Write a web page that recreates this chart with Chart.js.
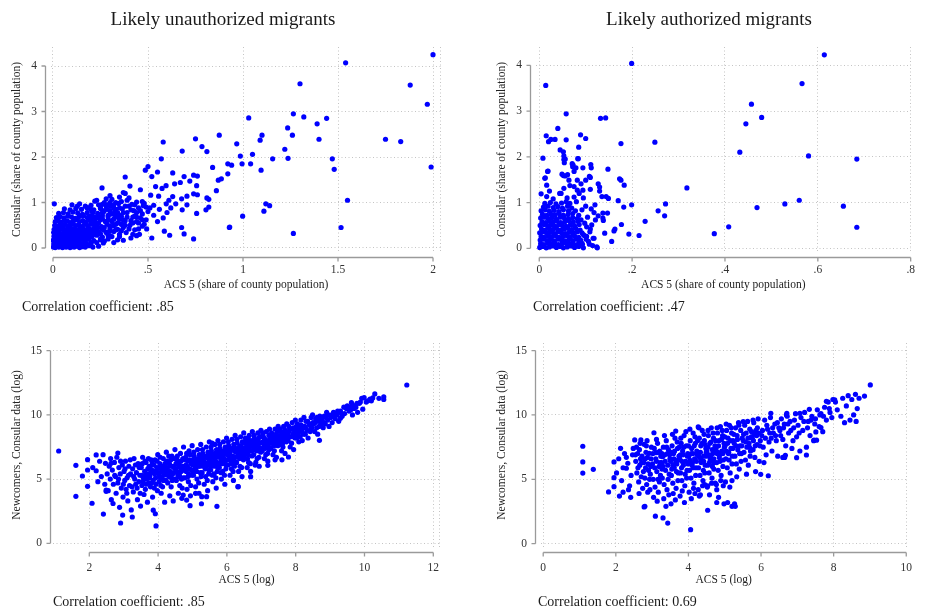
<!DOCTYPE html>
<html>
<head>
<meta charset="utf-8">
<script src="https://cdn.jsdelivr.net/npm/chart.js@4.4.1/dist/chart.umd.min.js"></script>
<style>
  html, body { margin: 0; padding: 0; background: #ffffff; }
  #wrap { position: relative; width: 926px; height: 614px; overflow: hidden; background: #ffffff; }
  #wrap canvas { position: absolute; left: 0; top: 0; }
</style>
</head>
<body>
<div id="wrap">
  <canvas id="pTL" width="926" height="614"></canvas>
  <canvas id="pTR" width="926" height="614"></canvas>
  <canvas id="pBL" width="926" height="614"></canvas>
  <canvas id="pBR" width="926" height="614"></canvas>
</div>
<script>
// ---- Text ----
const panelTitles = ['Likely unauthorized migrants', 'Likely authorized migrants'];
const shareXTitle = 'ACS 5 (share of county population)';
const shareYTitle = 'Consular (share of county population)';
const logXTitle = 'ACS 5 (log)';
const logYTitle = 'Newcomers, Consular data (log)';
const correlationNotes = ['Correlation coefficient: .85', 'Correlation coefficient: .47',
                          'Correlation coefficient: .85', 'Correlation coefficient: 0.69'];

// ---- Tick values ----
const shareTicksUnauthX = [0, 0.5, 1, 1.5, 2];
const shareTicksAuthX = [0, 0.2, 0.4, 0.6, 0.8];
const shareTicksY = [0, 1, 2, 3, 4];
const logTicksUnauthX = [2, 4, 6, 8, 10, 12];
const logTicksAuthX = [0, 2, 4, 6, 8, 10];
const logTicksY = [0, 5, 10, 15];

// ---- County values: [ACS 5, Consular] ----
// Likely unauthorized, share of county population
const unauthShare = [
  [1.54,4.07],[2.0,4.25],[1.30,3.61],[1.88,3.58],[1.97,3.16],[1.265,2.95],[1.03,2.86],[1.32,2.88],[1.44,2.85],[1.39,2.73],
  [1.235,2.64],[1.10,2.48],[1.09,2.37],[1.26,2.48],[1.40,2.39],[1.75,2.39],[1.83,2.34],[0.967,2.29],[1.22,2.17],[1.05,2.06],
  [0.986,2.02],[1.237,1.97],[1.156,1.96],[1.47,1.96],[0.995,1.85],[1.04,1.85],[0.94,1.82],[1.095,1.71],[1.48,1.73],[1.99,1.78],
  [1.55,1.05],[1.12,0.97],[1.14,0.93],[1.11,0.81],[0.998,0.70],[1.516,0.45],[1.265,0.32],[0.93,0.46],
  [0.58,2.33],[0.75,2.40],[0.875,2.48],[0.784,2.23],[0.81,2.12],[0.68,2.13],[0.57,1.96],[0.84,1.77],[0.92,1.85],[0.50,1.79],
  [0.486,1.71],[0.55,1.67],[0.38,1.56],[0.52,1.57],[0.63,1.65],[0.69,1.57],[0.74,1.60],[0.76,1.58],[0.92,1.63],[0.886,1.52],
  [0.87,1.49],[0.72,1.47],[0.67,1.44],[0.64,1.41],[0.595,1.37],[0.54,1.35],[0.405,1.36],[0.258,1.32],[0.756,1.37],[0.86,1.26],
  [0.574,1.31],[0.46,1.28],[0.37,1.22],[0.38,1.20],[0.514,1.16],[0.556,1.14],[0.63,1.13],[0.705,1.14],[0.74,1.19],[0.76,1.17],
  [0.61,1.05],[0.677,1.08],[0.81,1.10],[0.82,1.07],[0.007,0.97],[0.128,0.92],[0.22,1.03],[0.31,1.07],[0.33,1.00],[0.415,0.96],
  [0.44,1.01],[0.475,0.93],[0.53,0.94],[0.596,0.97],[0.646,0.97],[0.705,0.95],[0.68,0.84],[0.756,0.76],[0.805,0.84],[0.82,0.90],
  [0.677,0.45],[0.586,0.37],[0.69,0.31],[0.74,0.20],[0.614,0.28],[0.52,0.22],[0.928,0.45],[0.493,0.42],[0.44,0.27],[0.37,0.17],
  [0.265,0.11],
  [0.47,0.75],[0.50,0.80],[0.53,0.72],[0.56,0.85],[0.60,0.78],[0.49,0.62],[0.55,0.58],[0.45,0.55],[0.58,0.66],[0.62,0.88],
  [0.51,0.88],[0.43,0.70],[0.47,0.48],[0.41,0.60],[0.36,0.52],
  [0.16,0.72],[0.17,0.55],[0.18,0.88],[0.19,0.40],[0.2,0.62],[0.21,0.78],[0.22,0.30],[0.23,0.50],[0.24,0.95],[0.245,0.68],
  [0.25,0.20],[0.26,0.42],[0.27,0.82],[0.275,0.58],[0.28,0.35],[0.29,0.72],[0.3,0.48],[0.305,0.92],[0.31,0.25],[0.32,0.64],
  [0.325,0.80],[0.33,0.40],[0.34,0.55],[0.345,0.98],[0.35,0.30],[0.36,0.70],[0.365,0.86],[0.37,0.45],[0.38,0.60],[0.385,0.34],
  [0.39,0.78],[0.4,0.92],[0.405,0.50],[0.41,0.22],[0.42,0.68],[0.425,0.82],[0.43,0.40],[0.44,0.58],[0.45,0.88],[0.455,0.30],
  [0.46,0.66],[0.47,1.02],[0.48,0.52],[0.49,0.90],[0.2,0.12],[0.22,0.45],[0.18,0.25],[0.17,0.92],[0.23,1.05],[0.27,0.15],
  [0.29,0.95],[0.31,0.58],[0.34,0.18],[0.36,1.02],[0.38,0.92],[0.33,0.85],[0.29,0.28],[0.26,0.64],[0.24,0.36],[0.21,0.52],
  [0.19,0.70],[0.35,0.72],[0.42,0.30],[0.39,1.05],[0.44,0.78],[0.3,0.82],[0.27,1.0],[0.25,0.88],[0.32,0.12],[0.37,0.62],
  [0.2,0.85],[0.22,0.68],[0.24,0.55],[0.26,0.78],[0.27,0.45],[0.28,0.92],[0.29,0.62],[0.3,0.38],[0.31,0.75],[0.32,0.95],
  [0.33,0.52],[0.34,0.68],[0.35,0.88],[0.36,0.38],[0.37,0.78],[0.38,0.5],[0.39,0.68],[0.4,0.42],[0.41,0.84],[0.42,0.55],
  [0.43,0.95],[0.44,0.68],[0.45,0.42],[0.46,0.82],[0.47,0.62],[0.48,0.98],[0.4,1.1],[0.35,1.12],[0.3,1.15],[0.28,1.08],
  [0.002,0.02],[0.012,0.01],[0.022,0.04],[0.031,0.02],[0.041,0.05],[0.05,0.01],[0.06,0.03],[0.07,0.02],[0.08,0.05],[0.09,0.01],
  [0.1,0.03],[0.112,0.02],[0.125,0.04],[0.14,0.01],[0.155,0.03],[0.17,0.02],[0.19,0.05],[0.21,0.02],[0.24,0.04],
  [0.004,0.09],[0.015,0.11],[0.026,0.08],[0.036,0.1],[0.046,0.12],[0.056,0.08],[0.066,0.1],[0.076,0.12],[0.087,0.09],[0.097,0.11],
  [0.108,0.08],[0.12,0.1],[0.133,0.12],[0.147,0.09],[0.162,0.11],[0.18,0.08],[0.2,0.1],[0.23,0.12],
  [0.001,0.17],[0.01,0.19],[0.02,0.16],[0.03,0.18],[0.04,0.2],[0.05,0.17],[0.061,0.19],[0.071,0.16],[0.082,0.18],[0.093,0.2],
  [0.104,0.17],[0.116,0.19],[0.128,0.16],[0.142,0.18],[0.156,0.2],[0.172,0.17],[0.19,0.19],[0.215,0.16],[0.25,0.18],[0.29,0.2],
  [0.005,0.26],[0.016,0.24],[0.027,0.27],[0.038,0.25],[0.049,0.23],[0.059,0.26],[0.069,0.28],[0.08,0.24],[0.091,0.26],[0.102,0.25],
  [0.114,0.27],[0.126,0.23],[0.139,0.26],[0.153,0.28],[0.168,0.24],[0.185,0.27],[0.205,0.25],[0.23,0.28],[0.26,0.24],[0.3,0.27],[0.35,0.25],
  [0.003,0.34],[0.013,0.32],[0.024,0.35],[0.035,0.33],[0.046,0.31],[0.057,0.34],[0.068,0.36],[0.079,0.32],[0.09,0.34],[0.101,0.33],
  [0.113,0.35],[0.125,0.31],[0.138,0.34],[0.152,0.36],[0.166,0.32],[0.182,0.35],[0.2,0.33],[0.22,0.37],[0.25,0.31],[0.28,0.34],[0.32,0.36],
  [0.006,0.41],[0.018,0.43],[0.03,0.4],[0.042,0.42],[0.054,0.44],[0.066,0.4],[0.078,0.42],[0.09,0.44],[0.102,0.41],[0.115,0.43],
  [0.128,0.39],[0.142,0.42],[0.157,0.44],[0.173,0.4],[0.19,0.43],[0.21,0.41],[0.235,0.44],[0.265,0.4],[0.3,0.43],[0.34,0.41],
  [0.009,0.5],[0.022,0.48],[0.036,0.51],[0.05,0.49],[0.064,0.52],[0.078,0.48],[0.092,0.5],[0.106,0.53],[0.12,0.49],[0.135,0.51],
  [0.15,0.47],[0.166,0.52],[0.183,0.49],[0.2,0.53],[0.225,0.5],[0.255,0.47],[0.285,0.52],[0.32,0.49],[0.36,0.53],
  [0.012,0.58],[0.028,0.6],[0.044,0.57],[0.06,0.61],[0.076,0.59],[0.092,0.56],[0.108,0.6],[0.124,0.62],[0.14,0.58],[0.157,0.6],
  [0.175,0.57],[0.195,0.61],[0.22,0.59],[0.25,0.62],[0.28,0.57],[0.31,0.6],[0.35,0.63],
  [0.018,0.67],[0.038,0.69],[0.058,0.66],[0.078,0.7],[0.098,0.68],[0.118,0.65],[0.138,0.69],[0.158,0.71],[0.18,0.67],[0.205,0.7],
  [0.23,0.66],[0.26,0.71],[0.29,0.68],[0.33,0.7],
  [0.03,0.76],[0.055,0.78],[0.08,0.75],[0.105,0.79],[0.13,0.77],[0.155,0.74],[0.18,0.78],[0.205,0.8],[0.235,0.76],[0.265,0.79],
  [0.3,0.75],[0.34,0.78],
  [0.06,0.86],[0.09,0.84],[0.12,0.87],[0.15,0.85],[0.185,0.88],[0.215,0.84],[0.25,0.87],[0.285,0.85],[0.32,0.88],
  [0.1,0.95],[0.14,0.97],[0.2,0.94],[0.26,0.96],[0.3,1.0]
];

// Likely authorized, share of county population
const authShare = [
  [0.614,4.23],[0.566,3.60],[0.457,3.15],[0.479,2.86],[0.445,2.72],[0.432,2.10],[0.58,2.02],[0.684,1.95],[0.318,1.32],[0.469,0.89],
  [0.529,0.97],[0.56,1.05],[0.655,0.92],[0.408,0.47],[0.377,0.32],[0.684,0.46],
  [0.199,4.04],[0.014,3.56],[0.058,2.94],[0.132,2.84],[0.143,2.85],[0.04,2.62],[0.015,2.46],[0.089,2.48],[0.10,2.40],[0.02,2.33],
  [0.025,2.38],[0.034,2.38],[0.058,2.37],[0.249,2.32],[0.176,2.29],[0.085,2.21],[0.045,2.15],[0.052,2.11],[0.008,1.97],[0.053,2.02],
  [0.083,1.96],[0.053,1.94],[0.071,1.85],[0.072,1.78],[0.054,1.87],[0.094,1.76],[0.111,1.83],[0.112,1.76],[0.148,1.73],[0.018,1.68],
  [0.052,1.59],[0.061,1.61],[0.173,1.52],[0.176,1.49],[0.183,1.38],[0.127,1.41],[0.130,1.34],[0.10,1.49],[0.013,1.54],[0.016,1.38],
  [0.066,1.37],[0.09,1.41],[0.11,1.55],[0.004,1.19],[0.044,1.20],[0.086,1.20],[0.11,1.29],[0.135,1.13],[0.17,1.04],[0.199,0.95],
  [0.182,0.90],[0.272,0.97],[0.256,0.82],[0.27,0.71],[0.228,0.59],[0.215,0.28],[0.193,0.31],[0.177,0.52],[0.161,0.38],[0.163,0.42],
  [0.156,0.15],[0.147,0.77],[0.138,0.61],[0.141,0.33],[0.125,0.01],[0.118,0.22],[0.108,0.09],[0.102,0.26],
  [0.049,1.62],[0.056,1.58],[0.064,1.49],[0.082,1.49],[0.108,1.57],[0.075,1.35],[0.082,1.27],[0.094,1.27],[0.053,1.31],[0.047,1.20],
  [0.022,1.25],[0.016,1.13],[0.13,1.25],[0.144,1.13],[0.149,1.09],[0.137,0.77],[0.137,0.66],[0.127,0.71],[0.118,0.78],[0.121,0.62],
  [0.113,0.51],[0.102,0.47],[0.124,0.03],[0.116,0.22],[0.109,0.36],[0.097,0.28],[0.101,0.20],[0.086,0.14],[0.093,0.09],[0.115,0.06],
  [0.073,1.82],[0.079,1.76],[0.075,1.68],[0.019,1.69],[0.012,1.53],[0.056,1.95],[0.084,1.96],
  [0.001,0.02],[0.008,0.04],[0.015,0.01],[0.022,0.03],[0.03,0.05],[0.037,0.02],[0.045,0.04],[0.052,0.01],[0.06,0.03],[0.068,0.05],
  [0.076,0.02],[0.085,0.04],[0.095,0.01],
  [0.003,0.1],[0.01,0.08],[0.018,0.11],[0.026,0.09],[0.033,0.12],[0.041,0.08],[0.049,0.1],[0.057,0.12],[0.065,0.09],[0.073,0.11],
  [0.082,0.08],[0.091,0.12],
  [0.002,0.18],[0.009,0.2],[0.017,0.17],[0.024,0.19],[0.032,0.16],[0.04,0.2],[0.048,0.18],[0.056,0.16],[0.064,0.19],[0.072,0.17],
  [0.08,0.2],[0.089,0.18],
  [0.004,0.26],[0.011,0.24],[0.019,0.27],[0.027,0.25],[0.035,0.28],[0.043,0.24],[0.051,0.26],[0.059,0.28],[0.067,0.25],[0.076,0.27],[0.085,0.24],
  [0.001,0.34],[0.008,0.36],[0.016,0.33],[0.024,0.35],[0.032,0.32],[0.04,0.36],[0.048,0.34],[0.056,0.32],[0.064,0.35],[0.073,0.33],
  [0.082,0.36],[0.092,0.34],
  [0.005,0.42],[0.013,0.4],[0.021,0.43],[0.029,0.41],[0.037,0.44],[0.045,0.4],[0.053,0.42],[0.061,0.44],[0.07,0.41],[0.079,0.43],[0.088,0.4],
  [0.002,0.5],[0.01,0.52],[0.018,0.49],[0.026,0.51],[0.034,0.48],[0.042,0.52],[0.05,0.5],[0.058,0.48],[0.067,0.51],[0.076,0.49],[0.086,0.52],
  [0.006,0.58],[0.014,0.56],[0.022,0.59],[0.03,0.57],[0.038,0.6],[0.046,0.56],[0.055,0.58],[0.064,0.6],[0.073,0.57],[0.083,0.59],
  [0.003,0.66],[0.011,0.68],[0.019,0.65],[0.027,0.67],[0.036,0.64],[0.045,0.68],[0.054,0.66],[0.063,0.64],[0.072,0.67],[0.082,0.65],
  [0.007,0.74],[0.016,0.72],[0.025,0.75],[0.034,0.73],[0.043,0.76],[0.052,0.72],[0.062,0.74],[0.072,0.76],
  [0.004,0.82],[0.013,0.84],[0.022,0.81],[0.032,0.83],[0.042,0.8],[0.052,0.84],[0.063,0.82],
  [0.009,0.9],[0.019,0.92],[0.03,0.89],[0.04,0.91],[0.05,0.88],[0.061,0.92],
  [0.012,0.98],[0.024,1.0],[0.036,0.97],[0.048,0.99],[0.058,1.02],
  [0.095,0.3],[0.098,0.55],[0.104,0.68],[0.09,0.62],[0.085,0.72],[0.078,0.82],[0.092,0.84],[0.1,0.92],[0.07,0.88],[0.066,0.98],
  [0.08,1.02],[0.11,0.42],[0.106,0.15],[0.112,0.86],[0.12,0.95],[0.095,1.1],[0.075,1.12],[0.03,1.08],[0.06,1.1]
];

// Likely unauthorized, logs
const unauthLog = [
  [1.11,7.19],[1.61,6.07],[1.61,3.66],[1.80,5.24],[1.95,6.51],[1.95,4.44],[1.95,5.71],[2.08,3.12],[2.20,6.88],[2.20,5.65],
  [2.30,6.39],[2.41,2.28],[2.49,4.05],[2.49,4.15],[2.83,7.03],[2.91,1.58],[2.97,2.2],[3.25,2.05],[3.94,1.35],[3.86,2.58],
  [5.26,3.08],[4.93,2.93],[5.71,2.88],[6.33,4.41],[4.73,3.76],[4.83,3.37],[5.09,3.89],[5.27,3.63],[5.41,3.63],
  [2.35,5.2],[2.4,6.9],[2.45,4.6],[2.1,5.9],[2.25,4.8],[2.47,6.23],[2.63,6.23],
  [11.23,12.33],[10.56,11.2],[10.56,11.4],[10.30,11.63],[10.42,11.29],[10.16,11.24],[10.24,11.32],[9.99,11.34],[9.92,11.29],[9.62,10.95],
  [9.68,10.72],[9.6,10.4],[9.95,10.45],[9.30,9.73],[8.69,8.02],[7.79,6.72],[7.19,6.07],[7.4,6.5],[7.6,6.5],[6.82,6.09],
  [6.69,5.19],[6.32,4.41],
  [2.52,5.4],[2.55,4.1],[2.58,6.0],[2.61,5.0],[2.64,3.4],[2.67,5.7],[2.7,4.6],[2.73,6.3],
  [2.76,5.2],[2.78,3.9],[2.8,6.7],[2.83,4.7],[2.86,5.9],[2.88,2.8],[2.9,5.4],[2.93,4.3],[2.96,6.1],[2.98,3.6],
  [3.01,5.6],[3.03,4.9],[3.05,6.4],[3.07,4.2],[3.1,5.1],[3.12,3.3],[3.15,6.0],[3.17,4.5],[3.2,5.4],[3.22,2.6],
  [3.26,5.8],[3.28,4.0],[3.3,6.6],[3.32,5.0],[3.35,4.6],[3.37,5.5],[3.4,3.4],[3.42,6.2],[3.44,4.8],[3.47,5.3],[3.49,2.9],
  [3.51,5.9],[3.53,4.5],[3.55,6.7],[3.57,5.1],[3.59,3.8],[3.61,5.6],[3.63,4.2],[3.65,6.3],[3.67,5.0],[3.69,3.2],[3.71,5.4],[3.73,4.7],[3.74,6.0],
  [3.76,5.2],[3.78,4.4],[3.8,6.5],[3.82,5.7],[3.84,3.6],[3.86,4.9],[3.88,6.1],[3.9,5.4],[3.92,2.3],[3.94,4.6],[3.96,5.9],[3.98,4.1],[3.99,6.9],
  [4.01,5.5],[4.03,4.8],[4.05,6.2],[4.07,5.1],[4.09,3.9],[4.11,5.8],[4.13,4.4],[4.15,6.6],[4.17,5.3],[4.19,3.2],[4.21,5.9],[4.23,4.9],[4.24,7.1],[4.12,5.0],[4.2,6.2],
  [4.26,5.6],[4.28,4.7],[4.3,6.4],[4.32,5.2],[4.34,3.7],[4.36,6.0],[4.38,4.4],[4.4,6.8],[4.42,5.4],[4.44,3.3],[4.46,5.9],[4.48,5.0],[4.49,7.3],[4.33,6.2],[4.41,4.9],
  [4.51,5.8],[4.53,4.9],[4.55,6.5],[4.57,5.4],[4.59,3.9],[4.61,6.2],[4.63,4.5],[4.65,7.0],[4.67,5.6],[4.69,3.5],[4.71,6.0],[4.73,5.1],[4.74,7.5],[4.56,6.8],[4.64,5.9],[4.7,4.3],[4.58,5.2],
  [4.76,6.0],[4.78,5.1],[4.8,6.7],[4.82,5.6],[4.84,4.2],[4.86,6.4],[4.88,4.8],[4.9,7.2],[4.92,5.8],[4.94,3.7],[4.96,6.2],[4.98,5.3],[4.99,7.6],[4.81,6.1],[4.89,5.4],[4.95,4.5],[4.83,7.0],
  [5.01,6.1],[5.03,5.3],[5.05,6.8],[5.07,5.8],[5.09,4.4],[5.11,6.5],[5.13,5.0],[5.15,7.3],[5.17,6.0],[5.19,3.9],[5.21,6.4],[5.23,5.5],[5.24,7.7],[5.06,6.3],[5.12,5.6],[5.18,4.7],[5.04,7.1],[5.2,6.9],[5.1,5.9],[5.16,6.6],
  [5.26,6.3],[5.28,5.5],[5.3,7.0],[5.32,6.0],[5.34,4.6],[5.36,6.7],[5.38,5.2],[5.4,7.5],[5.42,6.2],[5.44,4.1],[5.46,6.6],[5.48,5.7],[5.49,7.9],[5.31,6.5],[5.37,5.8],[5.43,4.9],[5.29,7.3],[5.45,7.1],[5.35,6.1],[5.41,6.8],[5.47,5.4],
  [5.51,6.5],[5.53,5.7],[5.55,7.2],[5.57,6.2],[5.59,4.8],[5.61,6.9],[5.63,5.4],[5.65,7.7],[5.67,6.4],[5.69,4.3],[5.71,6.8],[5.73,5.9],[5.74,8.0],[5.56,6.7],[5.62,6.0],[5.68,5.1],[5.54,7.5],[5.7,7.3],[5.6,6.3],[5.66,7.0],[5.72,5.6],[5.58,5.3],
  [5.76,6.7],[5.78,5.9],[5.8,7.4],[5.82,6.4],[5.84,5.0],[5.86,7.1],[5.88,5.6],[5.9,7.9],[5.92,6.6],[5.94,4.6],[5.96,7.0],[5.98,6.1],[5.99,8.2],[5.81,6.9],[5.87,6.2],[5.93,5.3],[5.79,7.7],[5.95,7.5],[5.85,6.5],[5.91,7.2],[5.97,5.8],[5.83,5.5],
  [6.01,6.9],[6.03,6.1],[6.05,7.6],[6.07,6.6],[6.09,5.3],[6.11,7.3],[6.13,5.8],[6.15,8.1],[6.17,6.8],[6.19,4.9],[6.21,7.2],[6.23,6.3],[6.24,8.4],[6.06,7.1],[6.12,6.4],[6.18,5.6],[6.04,7.9],[6.2,7.7],[6.1,6.7],[6.16,7.4],[6.22,6.0],
  [6.26,7.1],[6.28,6.3],[6.3,7.8],[6.32,6.8],[6.34,5.6],[6.36,7.5],[6.38,6.0],[6.4,8.3],[6.42,7.0],[6.44,5.2],[6.46,7.4],[6.48,6.5],[6.49,8.6],[6.31,7.3],[6.37,6.6],[6.43,5.9],[6.29,8.1],[6.45,7.9],[6.35,7.2],[6.41,7.6],
  [6.51,7.35],[6.53,6.6],[6.55,8.0],[6.57,7.0],[6.59,5.9],[6.61,7.7],[6.63,6.3],[6.65,8.4],[6.67,7.2],[6.69,5.6],[6.71,7.6],[6.73,6.8],[6.74,8.7],[6.56,7.5],[6.62,6.9],[6.68,6.2],[6.54,8.2],[6.7,8.0],
  [6.76,7.6],[6.78,6.9],[6.8,8.2],[6.82,7.3],[6.84,6.3],[6.86,7.9],[6.88,6.6],[6.9,8.6],[6.92,7.5],[6.94,6.0],[6.96,7.8],[6.98,7.1],[6.99,8.8],[6.81,7.7],[6.87,7.2],[6.93,6.7],[6.79,8.4],[6.95,8.3],
  [7.01,7.85],[7.03,7.2],[7.05,8.4],[7.07,7.5],[7.09,6.6],[7.11,8.1],[7.13,6.9],[7.15,8.7],[7.17,7.7],[7.19,6.4],[7.21,8.0],[7.23,7.3],[7.24,8.9],[7.06,7.9],[7.12,7.4],[7.18,7.0],[7.04,8.6],
  [7.26,8.1],[7.28,7.4],[7.3,8.6],[7.32,7.8],[7.34,6.9],[7.36,8.3],[7.38,7.2],[7.4,8.9],[7.42,7.9],[7.44,6.7],[7.46,8.2],[7.48,7.6],[7.49,9.1],[7.31,8.0],[7.37,7.6],[7.43,8.5],
  [7.51,8.35],[7.53,7.7],[7.55,8.9],[7.57,8.0],[7.59,7.2],[7.61,8.6],[7.63,7.5],[7.65,9.1],[7.67,8.2],[7.69,7.0],[7.71,8.5],[7.73,7.9],[7.74,9.3],[7.56,8.4],[7.62,7.8],
  [7.76,8.6],[7.78,8.0],[7.8,9.1],[7.82,8.3],[7.84,7.5],[7.86,8.9],[7.88,7.8],[7.9,9.4],[7.92,8.5],[7.94,7.3],[7.96,8.8],[7.98,8.2],[7.99,9.6],[7.81,8.7],
  [8.01,8.85],[8.03,8.2],[8.05,9.3],[8.07,8.6],[8.09,7.9],[8.11,9.1],[8.13,8.3],[8.15,9.6],[8.17,8.8],[8.19,8.0],[8.21,9.0],[8.23,8.5],[8.24,9.8],
  [8.26,9.1],[8.28,8.5],[8.3,9.5],[8.33,8.8],[8.36,8.2],[8.39,9.3],[8.42,8.7],[8.45,9.8],[8.47,9.0],[8.49,10.0],
  [8.52,9.3],[8.55,8.7],[8.58,9.7],[8.61,9.0],[8.64,8.5],[8.67,9.5],[8.7,9.9],[8.73,9.2],
  [8.77,9.55],[8.8,9.0],[8.83,9.9],[8.86,9.3],[8.9,10.2],[8.93,9.6],[8.97,9.1],
  [9.02,9.8],[9.06,9.4],[9.1,10.2],[9.15,9.7],[9.2,10.0],[9.25,9.5],[9.3,10.3],[9.35,9.9],[9.42,10.1],[9.47,10.5],
  [9.55,10.3],[9.65,10.0],[9.75,10.6],[9.8,10.2],[9.85,10.9],[10.05,11.0],[10.2,11.1],
  [2.62,6.6],[2.69,3.1],[2.74,5.3],[2.85,5.0],[2.91,6.4],[2.99,4.6],[3.04,5.8],[3.09,3.9],[3.14,5.3],[3.19,6.5],
  [3.24,4.4],[3.29,5.2],[3.34,6.1],[3.39,4.3],[3.45,5.9],[3.48,3.9],
  [3.52,5.3],[3.54,6.2],[3.56,4.8],[3.6,5.0],[3.62,6.4],[3.64,5.3],[3.66,4.6],[3.7,5.8],[3.72,6.6],[3.75,5.1],
  [3.77,6.0],[3.79,5.5],[3.81,4.7],[3.83,6.3],[3.87,5.6],[3.89,4.3],[3.91,6.5],[3.93,5.1],[3.95,5.6],[3.97,6.4],
  [4.02,5.9],[4.04,5.3],[4.06,6.7],[4.08,4.5],[4.1,5.6],[4.14,6.0],[4.16,4.9],[4.18,5.7],[4.22,5.4],[4.25,6.4],
  [4.27,5.9],[4.29,5.3],[4.31,6.8],[4.35,5.6],[4.37,6.5],[4.39,5.1],[4.43,6.0],[4.45,5.5],[4.47,6.6],
  [4.52,6.2],[4.54,5.6],[4.6,6.0],[4.62,5.3],[4.66,6.4],[4.68,5.0],[4.72,6.6],[4.75,5.7],[4.77,6.5],[4.79,5.8],
  [4.85,6.0],[4.87,5.2],[4.91,6.5],[4.93,6.9],[4.97,5.7],[5.0,6.5],[5.02,5.6],[5.08,6.1],[5.14,6.3],[5.22,6.0],
  [5.25,5.2],[5.27,6.7],[5.33,6.4],[5.39,6.0],[5.46,6.3],[5.5,6.9],[5.52,6.0],[5.64,6.6],[5.75,6.2],
  [5.57,7.8],[5.63,6.1],[5.7,6.1],[5.77,7.1],[5.8,6.2],[5.84,6.8],[5.89,6.9],[5.95,6.4],[6.0,7.3],[6.02,6.5],
  [6.08,7.0],[6.14,6.2],[6.2,6.5],[6.25,7.4],[6.27,6.7],[6.33,7.0],[6.39,7.3],[6.44,6.8],[6.47,7.1],[6.5,6.9],
  [6.52,7.8],[6.58,7.3],[6.6,6.6],[6.64,7.5],[6.66,7.9],[6.72,7.2],[6.75,7.9],[6.77,7.3],[6.83,8.0],[6.85,7.5],
  [6.89,7.7],[6.91,8.1],[6.97,7.4],[6.62,8.1],
  [7.02,8.3],[7.08,8.2],[7.1,7.7],[7.14,8.0],[7.2,7.6],[7.22,8.4],[7.27,7.8],[7.29,8.4],[7.33,8.1],[7.39,8.0],
  [7.45,7.9],[7.47,8.7],[7.52,8.0],[7.58,8.7],[7.6,8.1],[7.64,8.4],[7.7,8.8],[7.72,8.1],[7.77,8.4],[7.83,8.9],
  [7.87,8.3],[7.93,9.0],[7.97,8.5],[8.02,9.1],[8.06,8.5],[8.12,8.8],[8.16,9.2],[8.2,8.6],[8.29,9.0],[8.35,9.5],
  [8.41,9.2],[8.44,8.9],[8.5,9.4],
  [8.57,9.4],[8.62,9.8],[8.68,9.1],[8.75,9.7],[8.82,9.4],[8.88,9.8],[8.95,10.0],[9.05,10.0],[9.12,9.9],[9.22,10.3],
  [9.33,10.1],[9.4,10.6],[9.5,10.7],[9.58,10.6],[9.7,10.5],[9.78,10.9],[9.88,11.0],[10.1,11.1]
];

// Likely authorized, logs
const authLog = [
  [1.09,7.57],[1.09,6.35],[1.09,5.49],[1.38,5.78],[1.80,4.02],[1.95,6.35],[1.95,5.13],[1.95,4.43],
  [2.02,5.5],[2.08,6.6],[2.13,7.41],[2.16,4.9],[2.2,5.9],[2.24,7.0],[2.29,6.71],[2.33,6.25],[2.29,5.86],[2.38,4.5],
  [2.42,5.3],[2.46,6.9],[2.41,3.6],[2.1,3.7],[2.2,4.0],[2.35,4.2],[2.48,7.4],
  [2.52,8.06],[2.69,8.06],[2.67,7.80],[2.55,6.4],[2.58,5.5],[2.6,7.0],[2.63,4.8],[2.66,6.1],[2.7,5.2],[2.72,6.8],[2.74,4.3],[2.57,7.5],[2.64,3.9],[2.68,6.6],
  [2.78,7.72],[2.78,2.86],[2.8,2.9],[2.77,6.3],[2.8,5.1],[2.83,7.1],[2.85,4.6],[2.87,6.7],[2.9,5.7],[2.92,7.02],[2.94,4.2],[2.96,6.0],[2.98,7.5],[2.82,5.9],[2.88,4.0],[2.95,5.4],[2.86,8.0],
  [3.05,8.62],[3.09,2.14],[3.11,7.07],[3.01,6.2],[3.03,5.0],[3.06,7.4],[3.08,4.4],[3.1,6.6],[3.13,5.6],[3.15,7.8],[3.17,4.0],[3.19,6.0],[3.21,7.2],[3.23,5.3],[3.24,6.8],[3.04,3.6],[3.14,3.3],[3.2,4.8],[3.12,8.1],
  [3.3,2.0],[3.43,1.6],[3.29,6.76],[3.26,6.3],[3.28,5.1],[3.31,7.5],[3.33,4.6],[3.35,6.9],[3.37,5.7],[3.39,8.0],[3.41,4.2],[3.43,6.1],[3.45,7.3],[3.47,5.4],[3.49,6.6],[3.32,3.5],[3.38,2.9],[3.46,3.8],[3.34,8.4],[3.42,7.0],[3.27,5.8],
  [3.65,8.75],[3.65,6.30],[3.51,6.4],[3.53,5.3],[3.55,7.6],[3.57,4.7],[3.59,7.0],[3.61,5.9],[3.63,8.2],[3.66,4.3],[3.68,6.2],[3.7,7.4],[3.72,5.5],[3.74,6.8],[3.52,3.1],[3.58,3.9],[3.64,3.4],[3.71,4.9],[3.56,8.5],[3.69,7.9],[3.6,6.6],[3.54,5.8],
  [3.76,6.6],[3.78,5.5],[3.8,7.8],[3.82,4.9],[3.84,7.2],[3.86,6.1],[3.88,8.4],[3.9,4.5],[3.92,6.4],[3.94,7.6],[3.96,5.7],[3.98,7.0],[3.77,3.7],[3.83,4.1],[3.89,3.2],[3.95,5.1],[3.79,8.2],[3.93,8.7],[3.85,6.9],[3.99,6.2],[3.81,5.9],
  [4.06,1.09],[4.27,9.07],[4.01,6.8],[4.03,5.7],[4.05,8.0],[4.07,5.1],[4.09,7.4],[4.11,6.3],[4.13,8.6],[4.15,4.7],[4.17,6.6],[4.19,7.8],[4.21,5.9],[4.23,7.2],[4.02,4.0],[4.08,3.5],[4.14,4.3],[4.2,5.3],[4.04,8.9],[4.18,8.3],[4.1,6.1],[4.24,6.9],[4.12,7.0],
  [4.26,7.0],[4.28,5.9],[4.3,8.2],[4.32,5.3],[4.34,7.6],[4.36,6.5],[4.38,8.8],[4.4,4.9],[4.42,6.8],[4.44,8.0],[4.46,6.1],[4.48,7.4],[4.27,4.2],[4.33,3.8],[4.39,4.5],[4.45,5.5],[4.29,9.0],[4.43,8.5],[4.35,6.3],[4.49,7.1],[4.31,6.7],[4.41,5.7],
  [4.51,7.2],[4.53,6.1],[4.55,8.4],[4.57,5.5],[4.59,7.8],[4.61,6.7],[4.63,9.0],[4.65,5.1],[4.67,7.0],[4.69,8.2],[4.71,6.3],[4.73,7.6],[4.52,4.4],[4.58,3.8],[4.64,4.7],[4.7,5.8],[4.54,8.8],[4.68,8.6],[4.6,6.5],[4.74,7.3],[4.56,6.9],[4.66,6.0],
  [4.76,7.4],[4.78,6.3],[4.8,8.6],[4.82,5.7],[4.84,8.0],[4.86,6.9],[4.88,9.1],[4.9,5.3],[4.92,7.2],[4.94,8.4],[4.96,6.5],[4.98,7.8],[4.77,4.6],[4.83,3.6],[4.89,4.9],[4.95,6.0],[4.79,9.0],[4.93,8.8],[4.85,6.7],[4.99,7.5],[4.81,7.1],
  [5.01,7.6],[5.03,6.6],[5.05,8.8],[5.07,5.9],[5.09,8.2],[5.11,7.1],[5.13,9.2],[5.15,5.5],[5.17,7.4],[5.19,8.6],[5.21,6.8],[5.23,8.0],[5.02,4.8],[5.08,3.2],[5.14,4.4],[5.2,6.2],[5.04,9.3],[5.18,9.0],[5.1,7.0],
  [5.26,7.8],[5.28,6.8],[5.3,9.0],[5.32,6.2],[5.34,8.4],[5.36,7.3],[5.38,9.4],[5.4,5.8],[5.42,7.6],[5.44,8.8],[5.46,7.0],[5.48,8.2],[5.27,3.1],[5.29,2.9],[5.33,5.2],[5.45,6.4],[5.39,9.2],
  [5.51,8.0],[5.53,7.1],[5.55,9.2],[5.57,6.5],[5.59,8.6],[5.61,7.5],[5.63,9.5],[5.65,6.1],[5.67,7.8],[5.69,8.9],[5.71,7.2],[5.73,8.3],[5.6,5.4],[5.7,6.8],[5.51,9.48],[5.78,9.61],
  [5.76,8.2],[5.78,7.3],[5.8,9.4],[5.83,6.7],[5.86,8.8],[5.89,7.7],[5.92,9.7],[5.95,6.4],[5.98,8.0],[5.99,5.39],[5.85,5.6],[5.9,9.0],[5.81,8.5],
  [6.2,5.28],[6.02,8.4],[6.06,7.5],[6.1,9.6],[6.14,6.9],[6.18,8.9],[6.22,7.9],[6.26,9.8],[6.3,7.2],[6.34,8.6],[6.38,9.3],[6.42,8.0],[6.46,6.8],[6.49,9.0],[6.08,6.3],[6.28,8.2],[6.27,10.13],
  [6.6,6.7],[6.65,6.7],[6.52,8.8],[6.56,9.7],[6.6,8.1],[6.64,9.3],[6.68,7.6],[6.72,9.9],[6.76,8.6],[6.8,9.5],[6.85,7.4],[6.9,9.0],[6.95,10.1],[6.98,8.3],[6.7,10.0],[6.88,8.0],
  [6.71,10.13],[6.67,6.87],[6.98,6.68],
  [7.02,9.2],[7.07,7.2],[7.1,9.8],[7.15,8.8],[7.2,10.2],[7.25,7.5],[7.3,9.5],[7.35,8.4],[7.4,9.9],[7.45,8.0],[7.48,9.3],
  [7.07,10.13],[7.33,10.44],[7.25,6.89],[7.46,8.04],[7.53,8.04],[7.51,8.68],[7.65,9.02],
  [7.55,10.4],[7.6,9.1],[7.65,10.1],[7.7,8.7],[7.75,10.6],[7.8,9.6],[7.85,11.0],[7.9,10.2],[7.95,9.8],[7.98,11.2],[7.8,11.06],[8.03,11.17],
  [8.05,11.0],[8.1,10.4],[8.2,9.9],[8.25,11.3],[8.3,9.4],[8.35,10.7],[8.4,11.5],[8.45,9.6],[8.5,11.2],[8.55,10.0],
  [8.6,11.6],[8.62,9.5],[8.65,10.5],[8.7,11.3],[8.85,11.47],[9.01,12.33],
  [4.45,4.6],[4.53,4.5],[4.74,4.7],[4.78,4.2],[4.96,4.5],[5.2,4.9],[4.98,3.1],[5.2,2.9],[4.53,2.6],[4.78,3.2],[4.18,3.9],[4.3,3.7],
  [2.54,6.9],[2.61,5.9],[2.65,7.3],[2.71,6.3],[2.76,5.6],[2.81,6.6],[2.84,7.6],[2.89,6.2],[2.93,5.0],[2.97,6.6],
  [3.02,7.0],[3.07,5.9],[3.12,6.4],[3.16,5.0],[3.18,7.1],[3.22,6.3],[3.27,7.0],[3.3,6.0],[3.36,6.4],[3.4,7.5],
  [3.44,5.0],[3.48,6.9],[3.53,7.1],[3.57,6.1],[3.62,7.2],[3.67,5.6],[3.71,6.5],[3.75,7.5],[3.78,6.9],[3.82,6.4],
  [3.87,7.5],[3.91,5.4],[3.97,6.8],[4.0,7.6],[4.04,6.5],[4.08,7.0],[4.13,5.9],[4.16,7.6],[4.22,6.4],[4.25,8.0],
  [4.28,6.8],[4.33,7.1],[4.37,7.8],[4.42,6.4],[4.46,7.7],[4.5,6.8],[4.54,7.5],[4.58,6.3],[4.62,7.9],[4.66,7.3],
  [4.7,6.6],[4.75,8.0],[4.79,7.0],[4.83,7.6],[4.87,6.4],[4.91,8.1],[4.95,7.0],[5.0,8.3],[5.04,7.2],[5.08,7.8],
  [5.12,6.5],[5.16,8.0],[5.22,7.4],[5.25,8.5],[5.31,7.6],[5.35,8.1],[5.41,7.0],[5.47,7.6],[5.52,8.5],[5.58,7.9],
  [5.64,8.2],[5.68,7.5],[5.74,8.7],[5.79,8.0],[5.84,7.6],[5.88,8.4],[5.93,8.6],[5.97,7.6],[6.04,8.8],[6.12,8.2],
  [6.16,9.2],[6.24,8.6],[6.32,9.0],[6.4,8.4],[6.45,9.4],[6.54,8.4],[6.62,9.0],[6.74,9.3],[6.82,8.8],[6.92,9.6],
  [7.05,8.6],[7.18,9.5],[7.28,9.0],[7.38,9.6],[7.5,9.7],[7.62,10.0],[7.72,9.9],[7.88,10.5]
];

// ---- Helpers ----
const SERIF = '"Liberation Serif", "DejaVu Serif", serif';
const PAGE_W = 926, PAGE_H = 614;
const GRID_COLOR = '#c4c4c4';
const AXIS_COLOR = '#9a9a9a';

// Stata-style tick labels: no leading zero on decimals
function stataLabel(v) {
  if (Number.isInteger(v)) return String(v);
  return String(v).replace(/^0\./, '.');
}

// Axis lines offset from the plot region, with outward tick marks
const offsetAxes = {
  id: 'offsetAxes',
  afterDatasetsDraw(chart, args, opts) {
    const { ctx, chartArea, scales } = chart;
    const xs = scales.x, ys = scales.y;
    ctx.save();
    ctx.strokeStyle = AXIS_COLOR;
    ctx.lineWidth = 1.3;
    // y axis
    const ax = Math.round(chartArea.left - opts.yGap) + 0.5;
    const yp = ys.ticks.map(t => ys.getPixelForValue(t.value));
    ctx.beginPath();
    ctx.moveTo(ax, Math.min(...yp));
    ctx.lineTo(ax, Math.max(...yp));
    yp.forEach(p => { ctx.moveTo(ax, p); ctx.lineTo(ax - 4, p); });
    ctx.stroke();
    // x axis
    const ay = Math.round(chartArea.bottom + opts.xGap) + 0.5;
    const xp = xs.ticks.map(t => xs.getPixelForValue(t.value));
    ctx.beginPath();
    ctx.moveTo(Math.min(...xp), ay);
    ctx.lineTo(Math.max(...xp), ay);
    xp.forEach(p => { ctx.moveTo(p, ay); ctx.lineTo(p, ay + 4); });
    ctx.stroke();
    // dotted edge line on the right of the plot region
    if (opts.edgeLine) {
      ctx.strokeStyle = GRID_COLOR;
      ctx.lineWidth = 1;
      ctx.setLineDash([1, 2.5]);
      const ex = Math.round(chartArea.right) - 0.5;
      ctx.beginPath();
      ctx.moveTo(ex, chartArea.top);
      ctx.lineTo(ex, chartArea.bottom);
      ctx.stroke();
    }
    ctx.restore();
  }
};

// Free text: panel titles and correlation notes
const panelText = {
  id: 'panelText',
  afterDraw(chart, args, opts) {
    const ctx = chart.ctx;
    ctx.save();
    (opts.items || []).forEach(it => {
      ctx.font = it.font;
      ctx.fillStyle = it.color || '#1a1a1a';
      ctx.textAlign = it.align || 'left';
      ctx.textBaseline = 'middle';
      ctx.fillText(it.text, it.x, it.y);
    });
    ctx.restore();
  }
};

function makePanel(id, p) {
  const lh = 11.5 * 1.2;
  const padLeft = p.yTitleX - lh / 2;
  const yScaleW = p.area.l - padLeft;
  const xScaleBottom = p.xTitleY + lh / 2;
  const xScaleH = xScaleBottom - p.area.b;
  const tickFont = { family: SERIF, size: 11.5 };
  const titleFont = { family: SERIF, size: 11.5 };
  return new Chart(document.getElementById(id), {
    type: 'scatter',
    data: {
      datasets: [{
        data: p.points.map(d => ({ x: d[0], y: d[1] })),
        backgroundColor: '#0000ff',
        borderColor: '#0000ff',
        borderWidth: 0,
        pointRadius: 2.6,
        pointHoverRadius: 2.6
      }]
    },
    options: {
      responsive: false,
      animation: false,
      devicePixelRatio: 1,
      events: [],
      layout: {
        padding: { left: padLeft, top: p.area.t, right: PAGE_W - p.area.r, bottom: PAGE_H - xScaleBottom }
      },
      plugins: {
        legend: { display: false },
        tooltip: { enabled: false },
        offsetAxes: { yGap: p.yGap, xGap: p.xGap, edgeLine: p.edgeLine },
        panelText: { items: p.texts }
      },
      scales: {
        x: {
          type: 'linear', position: 'bottom',
          min: p.xRange[0], max: p.xRange[1],
          afterBuildTicks: s => { s.ticks = p.xTicks.map(v => ({ value: v })); },
          afterFit: s => { s.height = xScaleH; },
          ticks: { padding: p.xTickPad, font: tickFont, color: '#333333', maxRotation: 0, autoSkip: false,
                   callback: v => stataLabel(v) },
          grid: { color: GRID_COLOR, lineWidth: 1, drawTicks: false },
          border: { display: false, dash: [1, 2.5] },
          title: { display: true, text: p.xTitle, font: titleFont, color: '#222222', padding: 0 }
        },
        y: {
          type: 'linear', position: 'left',
          min: p.yRange[0], max: p.yRange[1],
          afterBuildTicks: s => { s.ticks = p.yTicks.map(v => ({ value: v })); },
          afterFit: s => { s.width = yScaleW; },
          ticks: { padding: p.yTickPad, font: tickFont, color: '#333333', autoSkip: false,
                   callback: v => stataLabel(v) },
          grid: { color: GRID_COLOR, lineWidth: 1, drawTicks: false },
          border: { display: false, dash: [1, 2.5] },
          title: { display: true, text: p.yTitle, font: titleFont, color: '#222222', padding: 0 }
        }
      }
    },
    plugins: [offsetAxes, panelText]
  });
}

const headFont = '19px ' + SERIF;
const noteFont = '14px ' + SERIF;

makePanel('pTL', {
  points: unauthShare,
  area: { l: 51, r: 441, t: 47, b: 252 },
  xRange: [-0.0105, 2.042], yRange: [-0.088, 4.418],
  xTicks: shareTicksUnauthX, yTicks: shareTicksY,
  xTitle: shareXTitle, yTitle: shareYTitle,
  yTitleX: 17, xTitleY: 285, yTickPad: 14, xTickPad: 11,
  yGap: 6, xGap: 5, edgeLine: true,
  texts: [
    { text: panelTitles[0], x: 223, y: 20, font: headFont, align: 'center' },
    { text: correlationNotes[0], x: 22, y: 307, font: noteFont, align: 'left' }
  ]
});

makePanel('pTR', {
  points: authShare,
  area: { l: 536, r: 918, t: 47, b: 252 },
  xRange: [-0.007, 0.8], yRange: [-0.081, 4.40],
  xTicks: shareTicksAuthX, yTicks: shareTicksY,
  xTitle: shareXTitle, yTitle: shareYTitle,
  yTitleX: 502, xTitleY: 285, yTickPad: 14, xTickPad: 11,
  yGap: 6, xGap: 5, edgeLine: false,
  texts: [
    { text: panelTitles[1], x: 709, y: 20, font: headFont, align: 'center' },
    { text: correlationNotes[1], x: 533, y: 307, font: noteFont, align: 'left' }
  ]
});

makePanel('pBL', {
  points: unauthLog,
  area: { l: 53, r: 440, t: 343, b: 547 },
  xRange: [0.945, 12.195], yRange: [-0.288, 15.6],
  xTicks: logTicksUnauthX, yTicks: logTicksY,
  xTitle: logXTitle, yTitle: logYTitle,
  yTitleX: 17, xTitleY: 580, yTickPad: 11, xTickPad: 14,
  yGap: 3, xGap: 5, edgeLine: true,
  texts: [
    { text: correlationNotes[2], x: 53, y: 602, font: noteFont, align: 'left' }
  ]
});

makePanel('pBR', {
  points: authLog,
  area: { l: 541, r: 918, t: 343, b: 547 },
  xRange: [-0.061, 10.0], yRange: [-0.256, 15.59],
  xTicks: logTicksAuthX, yTicks: logTicksY,
  xTitle: logXTitle, yTitle: logYTitle,
  yTitleX: 502, xTitleY: 580, yTickPad: 14, xTickPad: 14,
  yGap: 6, xGap: 5, edgeLine: false,
  texts: [
    { text: correlationNotes[3], x: 538, y: 602, font: noteFont, align: 'left' }
  ]
});
</script>
</body>
</html>
